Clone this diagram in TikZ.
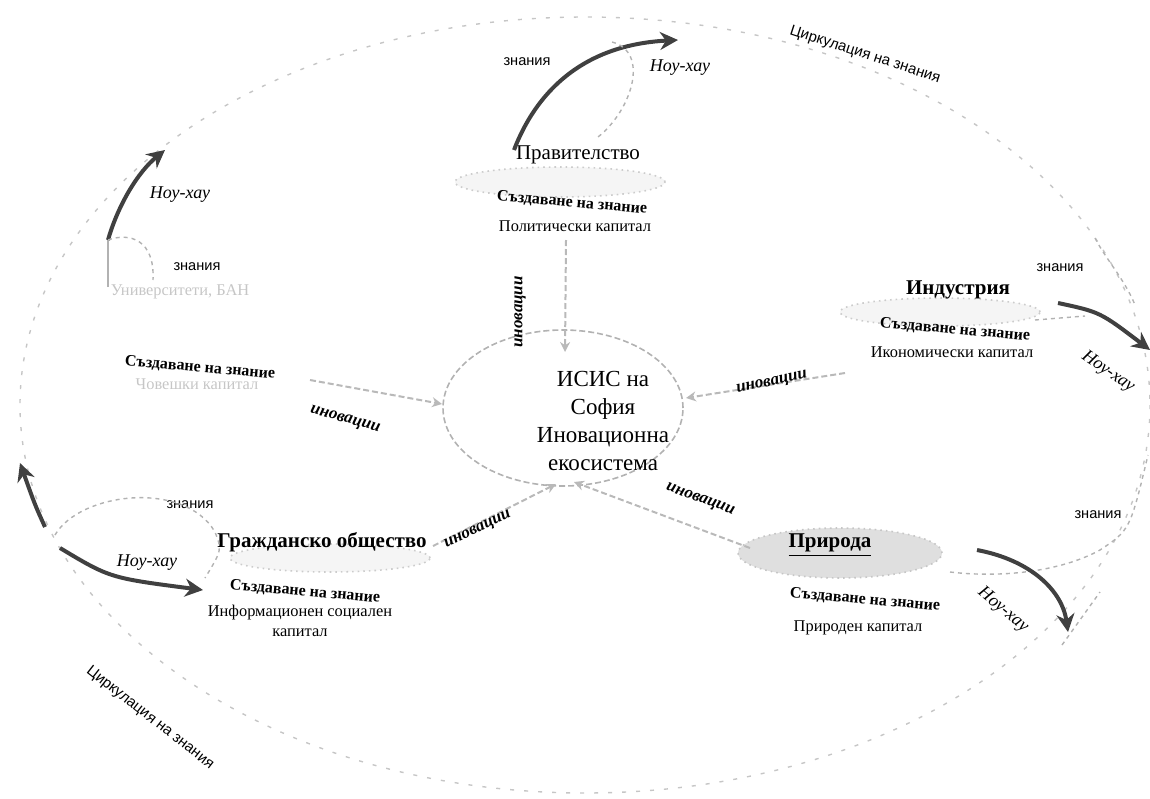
\documentclass[tikz,border=0pt]{standalone}
\usepackage{fontspec}
\setmainfont{Liberation Serif}
\newfontfamily\sansf{Liberation Sans}
\usetikzlibrary{arrows.meta,shapes.geometric}
\tikzset{
 actor/.style={font=\fontsize{10.5}{12}\selectfont, inner sep=1pt},
 actorb/.style={font=\fontsize{10.5}{12}\selectfont\bfseries, inner sep=1pt},
 create/.style={font=\fontsize{8}{10}\selectfont\bfseries, inner sep=1pt},
 capital/.style={font=\fontsize{8.2}{10}\selectfont, inner sep=1pt},
 fadedtxt/.style={font=\fontsize{8.2}{10}\selectfont, text=gray!45, inner sep=1pt},
 knw/.style={font=\sansf\fontsize{7.3}{8}\selectfont, inner sep=1pt},
 knowhow/.style={font=\fontsize{9}{10}\selectfont\itshape, inner sep=1pt},
 innov/.style={font=\fontsize{8.5}{10}\selectfont\bfseries\itshape, inner sep=1pt},
 circlabel/.style={font=\sansf\fontsize{7.5}{9}\selectfont, inner sep=1pt},
 blob/.style={ellipse, draw=gray!40, dotted, line width=0.8pt, fill=gray!8, inner sep=0pt},
 blobdark/.style={ellipse, draw=gray!45, dotted, line width=0.8pt, fill=gray!25, inner sep=0pt},
 outerring/.style={draw=gray!45, line width=0.7pt, dash pattern=on 2pt off 5pt},
 flow/.style={draw=gray!60, line width=0.7pt, dash pattern=on 2pt off 2pt},
 solidflow/.style={draw=gray!60, line width=0.7pt},
 inarrow/.style={draw=gray!55, line width=1pt, dash pattern=on 3pt off 1.5pt, -{Stealth[length=5pt,width=5pt]}},
 kharrow/.style={draw=black!75, line width=2pt, -{Stealth[length=9pt,width=9pt]}},
}
\begin{document}
\begin{tikzpicture}[x=0.5pt,y=-0.5pt]
\useasboundingbox (0,0) rectangle (1150,798);

% outer circulation ring
\draw[outerring] (585,405) ellipse [x radius=565, y radius=388];
\node[circlabel, rotate=-18] (circ1) at (865,55) {Циркулация на знания};
\node[circlabel, rotate=-38] (circ2) at (150,718) {Циркулация на знания};

% centre
\node[ellipse, draw=gray!60, dash pattern=on 3pt off 1.5pt, line width=0.8pt,
      minimum width=120pt, minimum height=78pt] (core) at (563,408) {};
\node[font=\fontsize{11.5}{14}\selectfont, align=center, inner sep=0pt] (coretext) at (603,421)
  {ИСИС на\\ София\\ Иновационна\\ екосистема};

% ---------- Government (top)
\node[blob, minimum width=105pt, minimum height=15pt] (govblob) at (560,182) {};
\node[actor] (gov) at (578,155) {Правителство};
\node[create, rotate=-5] (govc) at (572,203) {Създаване на знание};
\node[capital] (govk) at (575,226) {Политически капитал};
\node[knw] (govz) at (527,62) {знания};
\node[knowhow] (govh) at (680,68) {Ноу-хау};
\coordinate (govA) at (514,150);
\coordinate (govB) at (678,40);
\coordinate (govC) at (612,42);
\coordinate (govD) at (598,137);
\draw[kharrow] (govA) .. controls (535,95) and (580,45) .. (govB);
\draw[flow] (govC) .. controls (650,52) and (632,110) .. (govD);
\coordinate (govin) at (565,352);
\coordinate (govout) at (566,240);
\draw[inarrow] (govout) -- (govin);
\node[innov, rotate=90] (govi) at (520,312) {иновации};

% ---------- Universities (upper left)
\node[knowhow] (unih) at (180,195) {Ноу-хау};
\node[knw] (uniz) at (197,267) {знания};
\node[fadedtxt] (uni) at (180,292) {Университети, БАН};
\node[create, rotate=-5] (unic) at (200,368) {Създаване на знание};
\node[fadedtxt] (unik) at (197,384) {Човешки капитал};
\coordinate (uniA) at (108,287);
\coordinate (uniB) at (108,240);
\coordinate (uniC) at (165,150);
\coordinate (uniD) at (153,280);
\draw[solidflow] (uniA) -- (uniB);
\draw[kharrow] (uniB) .. controls (118,205) and (138,172) .. (uniC);
\draw[flow] (uniB) .. controls (130,232) and (155,240) .. (uniD);
\coordinate (uniout) at (310,380);
\coordinate (uniin) at (442,404);
\draw[inarrow] (uniout) -- (uniin);
\node[innov, rotate=-15] (unii) at (345,420) {иновации};

% ---------- Industry (right)
\node[blob, minimum width=100pt, minimum height=14pt] (indblob) at (940,312) {};
\node[actorb] (ind) at (958,290) {Индустрия};
\node[create, rotate=-5] (indc) at (955,330) {Създаване на знание};
\node[capital] (indk) at (952,352) {Икономически капитал};
\node[knw] (indz) at (1060,268) {знания};
\node[knowhow, rotate=-35] (indh) at (1108,372) {Ноу-хау};
\coordinate (indA) at (1058,303);
\coordinate (indB) at (1150,350);
\coordinate (indC) at (1095,238);
\coordinate (indD) at (1135,305);
\coordinate (indE) at (1035,320);
\coordinate (indF) at (1085,316);
\draw[kharrow] (indA) .. controls (1100,312) .. (indB);
\draw[flow] (indC) .. controls (1105,258) and (1125,280) .. (indD);
\draw[flow] (indE) -- (indF);
\coordinate (indout) at (845,373);
\coordinate (indin) at (686,398);
\draw[inarrow] (indout) -- (indin);
\node[innov, rotate=12] (indi) at (772,383) {иновации};

% ---------- Civil society (lower left)
\node[blob, minimum width=100pt, minimum height=14pt] (civblob) at (330,558) {};
\node[actorb] (civ) at (322,542) {Гражданско общество};
\node[create, rotate=-5] (civc) at (305,592) {Създаване на знание};
\node[capital, align=center] (civk) at (300,621) {Информационен социален\\ капитал};
\node[knw] (civz) at (190,505) {знания};
\node[knowhow] (civh) at (147,563) {Ноу-хау};
\coordinate (civA) at (55,535);
\coordinate (civB) at (215,532);
\coordinate (civC) at (205,578);
\draw[flow] (civA) .. controls (80,492) and (185,480) .. (civB) .. controls (222,550) .. (civC);
\coordinate (civD) at (45,527);
\coordinate (civE) at (20,463);
\draw[kharrow] (civD) .. controls (35,505) .. (civE);
\coordinate (civF) at (60,548);
\coordinate (civG) at (203,590);
\draw[kharrow] (civF) .. controls (110,578) .. (civG);
\coordinate (civout) at (433,546);
\coordinate (civin) at (556,484);
\draw[inarrow] (civout) -- (civin);
\node[innov, rotate=25] (civi) at (478,530) {иновации};

% ---------- Nature (lower right)
\node[blobdark, minimum width=102pt, minimum height=25pt] (natblob) at (840,553) {};
\node[actorb] (nat) at (830,545) {\underline{Природа}};
\node[create, rotate=-5] (natc) at (865,600) {Създаване на знание};
\node[capital] (natk) at (858,628) {Природен капитал};
\node[knw] (natz) at (1098,515) {знания};
\node[knowhow, rotate=-40] (nath) at (1003,610) {Ноу-хау};
\coordinate (natA) at (950,572);
\coordinate (natB) at (1100,550);
\coordinate (natC) at (1148,455);
\draw[flow] (natA) .. controls (1000,578) and (1060,572) .. (natB) .. controls (1130,530) .. (natC);
\coordinate (natD) at (977,550);
\coordinate (natE) at (1068,632);
\draw[kharrow] (natD) .. controls (1030,560) and (1062,590) .. (natE);
\coordinate (natF) at (1062,645);
\coordinate (natG) at (1100,592);
\draw[flow] (natF) -- (natG);
\coordinate (natout) at (750,548);
\coordinate (natin) at (574,482);
\draw[inarrow] (natout) -- (natin);
\node[innov, rotate=-20] (nati) at (700,500) {иновации};
\end{tikzpicture}
\end{document}
